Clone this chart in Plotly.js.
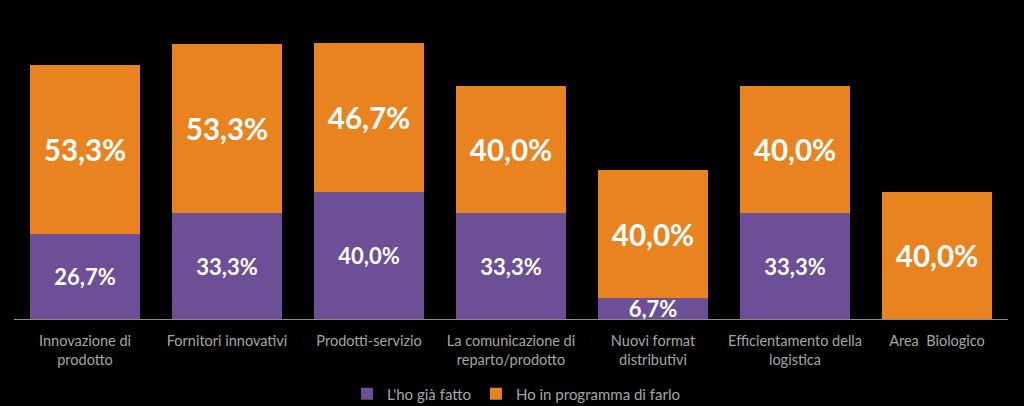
<!DOCTYPE html>
<html>
<head>
<meta charset="utf-8">
<script src="https://cdn.plot.ly/plotly-3.0.1.min.js"></script>
<style>
html,body{margin:0;padding:0;background:#000;}
#chart{width:1024px;height:406px;}
</style>
</head>
<body>
<div id="chart"></div>
<script>
var categories = [
  "Innovazione di<br>prodotto",
  "Fornitori innovativi",
  "Prodotti-servizio",
  "La comunicazione di<br>reparto/prodotto",
  "Nuovi format<br>distributivi",
  "Efficientamento della<br>logistica",
  "Area  Biologico"
];
var giaFatto = [26.7, 33.3, 40.0, 33.3, 6.7, 33.3, 0];
var inProgramma = [53.3, 53.3, 46.7, 40.0, 40.0, 40.0, 40.0];
var seriesNames = ["L'ho già fatto", "Ho in programma di farlo"];

function fmt(v){ return v > 0 ? v.toFixed(1).replace('.', ',') + '%' : ''; }

var font = "Lato, 'Open Sans', sans-serif";

var traces = [
  {
    type: 'bar', name: seriesNames[0], x: categories, y: giaFatto,
    marker: {color: '#6C4F97'},
    text: giaFatto.map(fmt), textposition: 'inside', insidetextanchor: 'middle',
    constraintext: 'none', cliponaxis: false,
    textfont: {family: font, size: 22, color: '#FFFFFF', weight: 'bold'},
    hoverinfo: 'skip'
  },
  {
    type: 'bar', name: seriesNames[1], x: categories, y: inProgramma,
    marker: {color: '#E8831F'},
    text: inProgramma.map(fmt), textposition: 'inside', insidetextanchor: 'middle',
    constraintext: 'none',
    textfont: {family: font, size: 29.5, color: '#FFFFFF', weight: 'bold'},
    hoverinfo: 'skip'
  }
];

var layout = {
  width: 1024, height: 406,
  paper_bgcolor: '#000000', plot_bgcolor: '#000000',
  barmode: 'stack', bargap: 0.22,
  margin: {l: 14, r: 16, t: 1, b: 87},
  font: {family: font, color: '#A6A6A6', size: 14},
  xaxis: {
    showline: true, linecolor: '#8C8C8C', linewidth: 1,
    showgrid: false, ticks: '', zeroline: false, automargin: false,
    tickfont: {family: font, size: 14.5, color: '#A6A6A6'},
    ticklabelstandoff: 9
  },
  yaxis: {
    range: [0, 100], visible: false, showgrid: false, zeroline: false, fixedrange: true, automargin: false
  },
  showlegend: true,
  legend: {
    orientation: 'h', x: 0.505, xanchor: 'center', xref: 'paper',
    y: 12 / 406, yanchor: 'middle', yref: 'container',
    font: {family: font, size: 15, color: '#A6A6A6'},
    bgcolor: 'rgba(0,0,0,0)', itemwidth: 30, traceorder: 'normal'
  }
};

Plotly.newPlot('chart', traces, layout, {displayModeBar: false, staticPlot: true});
</script>
</body>
</html>
